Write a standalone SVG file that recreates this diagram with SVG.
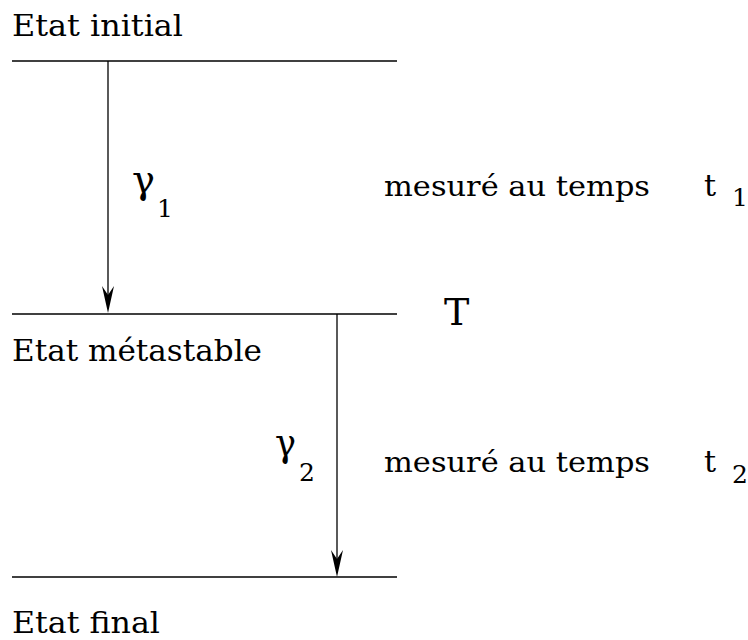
<svg xmlns="http://www.w3.org/2000/svg" width="748" height="640" viewBox="0 0 748 640">
<style>
text{font-family:"DejaVu Serif",serif;fill:#000}
.lbl{font-size:30px}
.m{font-size:27px}
.g{font-size:40px}
.s{font-size:25px}
.tt{font-size:30px}
.lvl{stroke:#000;stroke-width:1.3;fill:none}
.c{stroke:#000;stroke-width:1.3;fill:none}
.ah{fill:#000}
</style>
<g id="level-initial">
<line class="lvl" x1="12" y1="61" x2="397" y2="61"/>
<text class="lbl" x="12" y="36" textLength="171" lengthAdjust="spacingAndGlyphs">Etat initial</text>
</g>
<g id="level-meta">
<line class="lvl" x1="12" y1="314" x2="397" y2="314"/>
<text class="lbl" x="12" y="361" textLength="250" lengthAdjust="spacingAndGlyphs">Etat métastable</text>
<text x="444" y="325" style="font-size:38px">T</text>
</g>
<g id="level-final">
<line class="lvl" x1="12" y1="577" x2="397" y2="577"/>
<text class="lbl" x="12" y="633" textLength="148" lengthAdjust="spacingAndGlyphs">Etat final</text>
</g>
<g id="label-1">
<text class="g" x="132" y="193" textLength="23" lengthAdjust="spacingAndGlyphs">γ</text>
<text class="s" x="157" y="217">1</text>
<text class="m" x="384" y="196" textLength="266" lengthAdjust="spacingAndGlyphs">mesuré au temps</text>
<text class="tt" x="704" y="196">t</text>
<text class="s" x="732" y="206">1</text>
</g>
<g id="label-2">
<text class="g" x="275" y="456" textLength="21" lengthAdjust="spacingAndGlyphs">γ</text>
<text class="s" x="299" y="481">2</text>
<text class="m" x="384" y="472" textLength="266" lengthAdjust="spacingAndGlyphs">mesuré au temps</text>
<text class="tt" x="704" y="472">t</text>
<text class="s" x="732" y="483">2</text>
</g>
<g id="connectors">
<line class="c" x1="108" y1="61" x2="108" y2="300"/>
<path class="ah" d="M108,313 L102,286 L108,295 L114,286 Z"/>
<line class="c" x1="337" y1="314" x2="337" y2="564"/>
<path class="ah" d="M337,577 L331,550 L337,559 L343,550 Z"/>
</g>
</svg>
